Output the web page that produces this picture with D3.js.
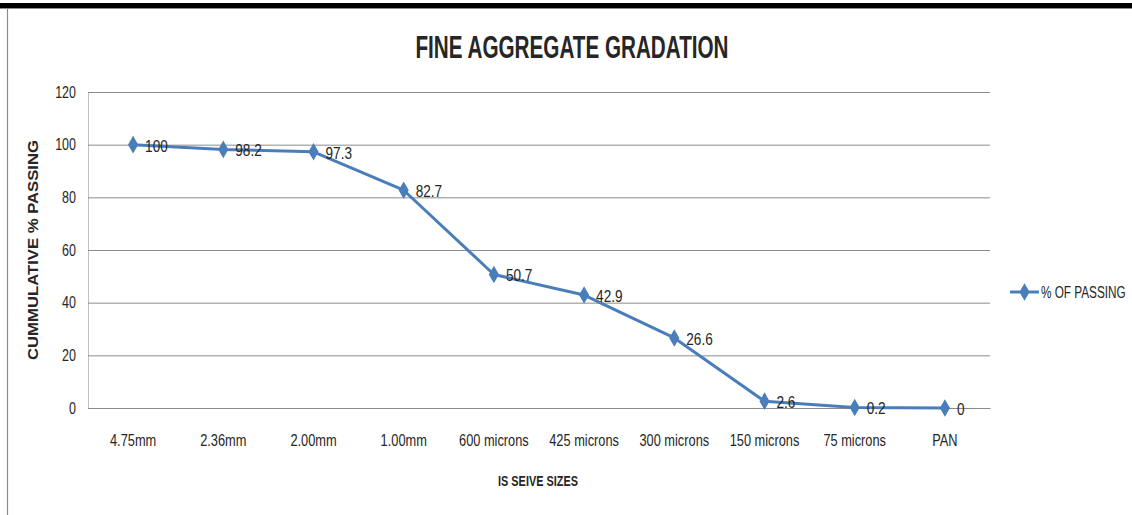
<!DOCTYPE html>
<html><head><meta charset="utf-8">
<script src="https://cdn.jsdelivr.net/npm/d3@7"></script>
<style>
html,body{margin:0;padding:0;background:#fff;}
svg{display:block;}
text{font-family:"Liberation Sans",Arial,sans-serif;fill:#262626;}
</style></head>
<body>
<svg id="c" width="1132" height="515"></svg>
<script>
const categories = ["4.75mm","2.36mm","2.00mm","1.00mm","600 microns","425 microns","300 microns","150 microns","75 microns","PAN"];
const passing = [100, 98.2, 97.3, 82.7, 50.7, 42.9, 26.6, 2.6, 0.2, 0];
const yTicks = [0, 20, 40, 60, 80, 100, 120];
const seriesName = "% OF PASSING";
const title = "FINE AGGREGATE GRADATION";
const xTitle = "IS SEIVE SIZES";
const yTitle = "CUMMULATIVE % PASSING";

const svg = d3.select("#c");
const W = 1132, H = 515;
const m = {left: 88, right: 990, top: 92, bottom: 408};
const blue = "#4a7ebb";

// condense text horizontally (simulates a narrow font)
function condense(sel, f) {
  sel.each(function() {
    const len = this.getComputedTextLength();
    d3.select(this).attr("textLength", len * f).attr("lengthAdjust", "spacingAndGlyphs");
  });
}

// outer frame
svg.append("rect").attr("x", 0).attr("y", 3).attr("width", W).attr("height", 5).attr("fill", "#000");
svg.append("line").attr("x1", 0).attr("x2", W).attr("y1", 8.5).attr("y2", 8.5).attr("stroke", "#8c8c8c").attr("stroke-width", 1);
svg.append("line").attr("x1", 7.5).attr("x2", 7.5).attr("y1", 9).attr("y2", H).attr("stroke", "#8c8c8c").attr("stroke-width", 1.2);

const x = d3.scaleBand().domain(categories).range([m.left, m.right]);
const y = d3.scaleLinear().domain([0, 120]).range([m.bottom, m.top]);

// gridlines + y axis
const yAxis = d3.axisLeft(y).tickValues(yTicks).tickSize(-(m.right - m.left)).tickPadding(12).tickFormat(d3.format("d"));
const gy = svg.append("g").attr("transform", `translate(${m.left},0)`).call(yAxis);
gy.select(".domain").attr("stroke", "#bfbfbf");
gy.selectAll(".tick line").attr("stroke", "#8c8c8c").attr("stroke-width", 1);
gy.selectAll(".tick text").attr("font-size", 16).attr("fill", "#262626")
  .style("font-family", '"Liberation Sans",Arial,sans-serif').call(condense, 0.78);

// x axis
const xAxis = d3.axisBottom(x).tickSize(0).tickPadding(27);
const gx = svg.append("g").attr("transform", `translate(0,${m.bottom})`).call(xAxis);
gx.select(".domain").attr("stroke", "#8c8c8c");
gx.selectAll(".tick text").attr("font-size", 16).attr("fill", "#262626")
  .style("font-family", '"Liberation Sans",Arial,sans-serif').call(condense, 0.8);

const cx = d => x(d) + x.bandwidth() / 2;

// line
const line = d3.line().x((d, i) => cx(categories[i])).y(d => y(d));
svg.append("path").datum(passing).attr("d", line).attr("fill", "none")
  .attr("stroke", blue).attr("stroke-width", 3).attr("stroke-linejoin", "round");

// markers
const diamond = d3.symbol().type(d3.symbolDiamond).size(90);
svg.selectAll(".mk").data(passing).enter().append("path")
  .attr("d", diamond).attr("fill", blue)
  .attr("transform", (d, i) => `translate(${cx(categories[i])},${y(d)})`);

// data labels
svg.selectAll(".lbl").data(passing).enter().append("text")
  .attr("x", (d, i) => cx(categories[i]) + 12).attr("y", d => y(d) + 7)
  .attr("font-size", 17).text(d => d).call(condense, 0.8);

// title
svg.append("text").attr("x", 572).attr("y", 58).attr("text-anchor", "middle")
  .attr("font-size", 31).attr("font-weight", "bold").attr("fill", "#000")
  .attr("textLength", 313).attr("lengthAdjust", "spacingAndGlyphs").text(title);

// x title
svg.append("text").attr("x", 538).attr("y", 486).attr("text-anchor", "middle")
  .attr("font-size", 15).attr("font-weight", "bold").attr("fill", "#000")
  .attr("textLength", 80).attr("lengthAdjust", "spacingAndGlyphs").text(xTitle);

// y title
svg.append("text").attr("transform", "translate(38,250) rotate(-90)").attr("text-anchor", "middle")
  .attr("font-size", 14).attr("font-weight", "bold").attr("fill", "#000")
  .attr("textLength", 220).attr("lengthAdjust", "spacingAndGlyphs").text(yTitle);

// legend
const ly = 292;
svg.append("line").attr("x1", 1010).attr("x2", 1039).attr("y1", ly).attr("y2", ly).attr("stroke", blue).attr("stroke-width", 3);
svg.append("path").attr("d", diamond).attr("fill", blue).attr("transform", `translate(1024.5,${ly})`);
const lt = svg.append("g").attr("transform", `translate(1041,${ly + 6}) scale(0.735,1)`);
lt.append("text").attr("x", 0).attr("y", 0).attr("font-size", 16).text(seriesName);
</script>
</body></html>
